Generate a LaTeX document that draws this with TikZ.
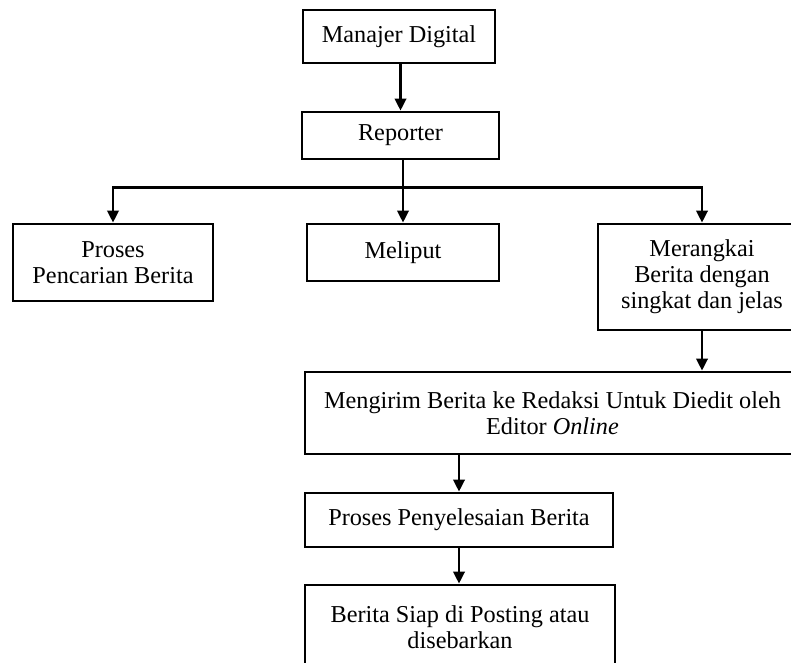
\documentclass[tikz,border=0pt]{standalone}
\usepackage{fontspec}
\setmainfont{Liberation Serif}
\usetikzlibrary{arrows.meta}
\newlength\px
\setlength\px{0.75pt}

\begin{document}
\begin{tikzpicture}[
    x=0.75pt, y=-0.75pt,
    box/.style={draw, line width=2.1pt, align=center, inner sep=0pt,
                font=\fontsize{18.2}{19.6}\selectfont},
    ar/.style={-{Triangle[length=9pt, width=8.5pt]}, line width=2pt}
  ]
  \useasboundingbox (0,0) rectangle (791,662);
  \clip (0,0) rectangle (791,662);

  \node[box, minimum width=192\px, minimum height=53\px] (mgr) at (399,36.5) {Manajer Digital};
  \node[box, minimum width=197\px, minimum height=47\px] (rep) at (400.5,135.5) {Reporter};

  \node[box, minimum width=200\px, minimum height=77\px] (cari) at (113,262.5)
       {Proses\\Pencarian Berita};
  \node[box, minimum width=192\px, minimum height=57\px] (liput) at (403,252.5) {Meliput};
  \node[box, minimum width=208\px, minimum height=106\px] (rangkai) at (702,277)
       {Merangkai\\Berita dengan\\singkat dan jelas};

  \node[box, minimum width=495\px, minimum height=82\px] (kirim) at (552.5,413)
       {Mengirim Berita ke Redaksi Untuk Diedit oleh\\Editor \textit{Online}};
  \node[box, minimum width=308\px, minimum height=54\px] (selesai) at (459,520)
       {Proses Penyelesaian Berita};
  \node[box, minimum width=310\px, minimum height=84\px] (siap) at (460,627)
       {Berita Siap di Posting atau\\disebarkan};

  \coordinate (bus) at (0,187.5);

  \draw[ar] (mgr.south -| rep.north) -- (rep.north);
  \draw[ar] (rep.south -| liput.north) -- (liput.north);
  \draw[ar] (bus -| liput.north) -| (cari.north);
  \draw[ar] (bus -| liput.north) -| (rangkai.north);
  \draw[ar] (rangkai.south) -- (rangkai.south |- kirim.north);
  \draw[ar] (kirim.south -| selesai.north) -- (selesai.north);
  \draw[ar] (selesai.south) -- (selesai.south |- siap.north);
\end{tikzpicture}
\end{document}
